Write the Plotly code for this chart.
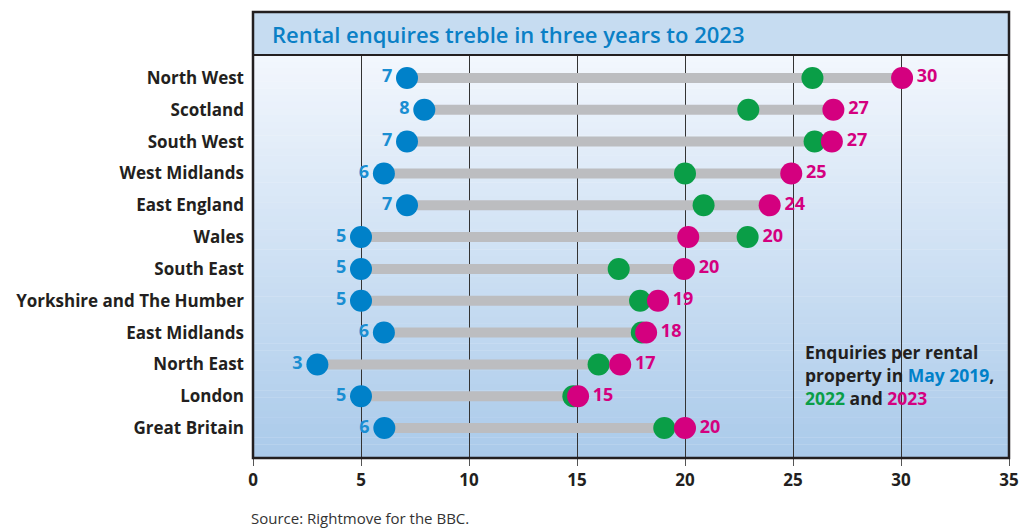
import plotly.graph_objects as go

regions = ["North West", "Scotland", "South West", "West Midlands", "East England", "Wales",
           "South East", "Yorkshire and The Humber", "East Midlands", "North East", "London",
           "Great Britain"]
v2019 = [7.13, 7.93, 7.13, 6.06, 7.13, 5.0, 5.0, 5.0, 6.06, 2.98, 5.0, 6.08]
v2022 = [25.9, 22.93, 26.0, 20.0, 20.86, 22.9, 16.93, 17.92, 18.0, 16.0, 14.83, 19.04]
v2023 = [30.05, 26.87, 26.8, 24.92, 23.92, 20.15, 19.95, 18.75, 18.2, 17.0, 15.05, 20.0]
x_ticks = [0, 5, 10, 15, 20, 25, 30, 35]

BLUE = "#0081C9"
BLUE_TXT = "#1A8ED2"
GREEN = "#0A9E47"
MAGENTA = "#D4007F"
GREY = "#BCBDC0"
DARK = "#231F20"
FONT = "Open Sans"

ypos = list(range(len(regions)))
vmax = [max(a, b) for a, b in zip(v2022, v2023)]

fig = go.Figure()

# grey connecting bars
for i, r in enumerate(regions):
    fig.add_trace(go.Scatter(x=[v2019[i], vmax[i]], y=[ypos[i], ypos[i]], mode="lines",
                             line=dict(color=GREY, width=10), hoverinfo="skip", showlegend=False))

fig.add_trace(go.Scatter(x=v2019, y=ypos, mode="markers+text", name="2019",
                         marker=dict(color=BLUE, size=22),
                         text=[str(round(v)) for v in v2019], textposition="middle left",
                         textfont=dict(family=FONT, size=18, color=BLUE_TXT, weight="bold"),
                         showlegend=False))
fig.add_trace(go.Scatter(x=v2022, y=ypos, mode="markers", name="2022",
                         marker=dict(color=GREEN, size=22), showlegend=False))
fig.add_trace(go.Scatter(x=v2023, y=ypos, mode="markers", name="2023",
                         marker=dict(color=MAGENTA, size=22), showlegend=False))
fig.add_trace(go.Scatter(x=vmax, y=ypos, mode="markers+text", name="labels",
                         marker=dict(color="rgba(0,0,0,0)", size=22),
                         text=[str(round(v)) for v in v2023], textposition="middle right",
                         textfont=dict(family=FONT, size=18, color=MAGENTA, weight="bold"),
                         hoverinfo="skip", showlegend=False))

# gradient background bands
top = (0xF3, 0xF7, 0xFD)
bot = (0xAA, 0xCA, 0xEA)
n = 60
shapes = []
for k in range(n):
    t = (k + 0.5) / n
    c = tuple(int(round(top[j] + (bot[j] - top[j]) * t)) for j in range(3))
    shapes.append(dict(type="rect", xref="paper", yref="paper", x0=0, x1=1,
                       y0=1 - (k + 1) / n, y1=1 - k / n + 0.001, layer="below",
                       line=dict(width=0), fillcolor="rgb(%d,%d,%d)" % c))
title_h = 43 / 403
shapes.append(dict(type="rect", xref="paper", yref="paper", x0=0, x1=1, y0=1, y1=1 + title_h,
                   layer="below", line=dict(width=0), fillcolor="#C6DCF1"))
shapes.append(dict(type="rect", xref="paper", yref="paper", x0=0, x1=1, y0=0, y1=1 + title_h,
                   layer="above", line=dict(width=2.5, color=DARK), fillcolor="rgba(0,0,0,0)"))
shapes.append(dict(type="line", xref="paper", yref="paper", x0=0, x1=1, y0=1, y1=1,
                   layer="above", line=dict(width=2, color=DARK)))

annotations = [
    dict(text="Rental enquires treble in three years to 2023", xref="paper", yref="paper",
         x=17 / 756, y=1 + 21 / 403, xanchor="left", yanchor="middle", showarrow=False,
         font=dict(family=FONT, size=22, color="#0A80C6", weight=600)),
    dict(text=("Enquiries per rental<br>property in <span style='color:%s'>May 2019</span>,<br>"
               "<span style='color:%s'>2022</span> and <span style='color:%s'>2023</span>")
              % (BLUE, GREEN, MAGENTA),
         xref="paper", yref="paper", x=550 / 756, y=(458 - 375) / 403, xanchor="left",
         yanchor="middle", align="left", showarrow=False,
         font=dict(family=FONT, size=17.5, color=DARK, weight="bold")),
    dict(text="Source: Rightmove for the BBC.", xref="paper", yref="paper",
         x=-4 / 756, y=-(518 - 458) / 403, xanchor="left", yanchor="middle", showarrow=False,
         font=dict(family=FONT, size=15, color="#333333")),
]

fig.update_layout(
    width=1020, height=528,
    margin=dict(l=253, r=11, t=55, b=70, autoexpand=False),
    paper_bgcolor="white", plot_bgcolor="rgba(0,0,0,0)",
    shapes=shapes, annotations=annotations,
    xaxis=dict(range=[0, 35], tickvals=x_ticks, ticks="outside", ticklen=7, tickcolor="#555555",
               tickwidth=1, showgrid=True, gridcolor="#333333", gridwidth=1, zeroline=False,
               showline=False, automargin=False,
               tickfont=dict(family=FONT, size=17, color=DARK, weight="bold"),
               fixedrange=True),
    yaxis=dict(range=[11.94, -0.72], tickvals=ypos, ticktext=regions, showgrid=False,
               zeroline=False, showline=False, ticks="", ticklabelstandoff=8, automargin=False,
               tickfont=dict(family=FONT, size=17, color=DARK, weight="bold"), fixedrange=True),
)

fig.write_html("out.html", config={"displayModeBar": False},
               post_script="document.body.style.margin='0';document.body.style.overflow='hidden';")
